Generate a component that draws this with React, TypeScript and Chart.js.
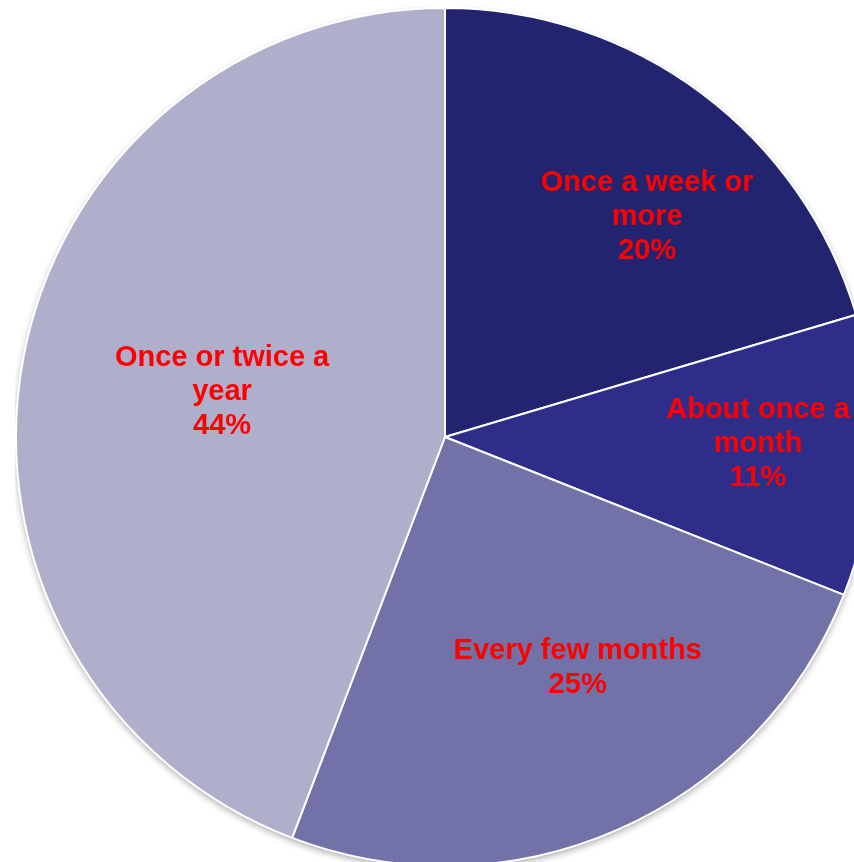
import React, { useEffect, useRef } from "react";
import { Chart, registerables } from "chart.js";

Chart.register(...registerables);

const categories = ["Once a week or more", "About once a month", "Every few months", "Once or twice a year"];
const values = [20.4, 10.6, 24.8, 44.2];
const labelLines = [
  ["Once a week or", "more"],
  ["About once a", "month"],
  ["Every few months"],
  ["Once or twice a", "year"],
];
const colors = ["#232470", "#2E2E8A", "#7272A8", "#AFAFCB"];

// label placement: [radius fraction, angle offset in degrees from slice mid-angle]
const labelPlacement = [
  [0.696, 5.9],
  [0.73, -1.2],
  [0.621, -6.1],
  [0.53, 0.9],
];

const shadowPlugin = {
  id: "pieShadow",
  beforeDatasetsDraw(chart: any) {
    const meta = chart.getDatasetMeta(0);
    const arc = meta.data[0];
    if (!arc) return;
    const { x, y, outerRadius } = arc.getProps(["x", "y", "outerRadius"], true);
    const ctx = chart.ctx;
    ctx.save();
    ctx.shadowColor = "rgba(0,0,0,0.35)";
    ctx.shadowBlur = 7;
    ctx.shadowOffsetX = 0;
    ctx.shadowOffsetY = 3;
    ctx.beginPath();
    ctx.arc(x, y, outerRadius, 0, Math.PI * 2);
    ctx.fillStyle = "#ffffff";
    ctx.fill();
    ctx.restore();
  },
};

const labelPlugin = {
  id: "sliceLabels",
  afterDatasetsDraw(chart: any) {
    const meta = chart.getDatasetMeta(0);
    const ctx = chart.ctx;
    const total = values.reduce((a, b) => a + b, 0);
    ctx.save();
    ctx.font = "bold 29px 'Liberation Sans', Arial, sans-serif";
    ctx.fillStyle = "#FF0000";
    ctx.textAlign = "center";
    ctx.textBaseline = "middle";
    const lineH = 34;
    meta.data.forEach((arc: any, i: number) => {
      const p = arc.getProps(["x", "y", "startAngle", "endAngle", "outerRadius"], true);
      const mid = (p.startAngle + p.endAngle) / 2 + (labelPlacement[i][1] * Math.PI) / 180;
      const r = p.outerRadius * labelPlacement[i][0];
      const cx = p.x + Math.cos(mid) * r;
      const cy = p.y + Math.sin(mid) * r;
      const lines = [...labelLines[i], Math.round((values[i] / total) * 100) + "%"];
      const top = cy - ((lines.length - 1) * lineH) / 2;
      lines.forEach((t, k) => ctx.fillText(t, cx, top + k * lineH));
    });
    ctx.restore();
  },
};

export default function App() {
  const ref = useRef<HTMLCanvasElement>(null);
  useEffect(() => {
    if (!ref.current) return;
    const chart = new Chart(ref.current, {
      type: "pie",
      data: {
        labels: categories,
        datasets: [
          {
            data: values,
            backgroundColor: colors,
            borderColor: "#ffffff",
            borderWidth: 2,
          },
        ],
      },
      options: {
        animation: false,
        responsive: false,
        maintainAspectRatio: false,
        layout: { padding: 0 },
        plugins: {
          legend: { display: false },
          tooltip: { enabled: false },
        },
      },
      plugins: [shadowPlugin, labelPlugin],
    });
    return () => chart.destroy();
  }, []);
  return (
    <div style={{ position: "fixed", left: 0, top: 0, width: 854, height: 862, overflow: "hidden", background: "#fff" }}>
      <canvas ref={ref} width={860} height={860} style={{ position: "absolute", left: 15, top: 7, width: 860, height: 860 }} />
    </div>
  );
}
